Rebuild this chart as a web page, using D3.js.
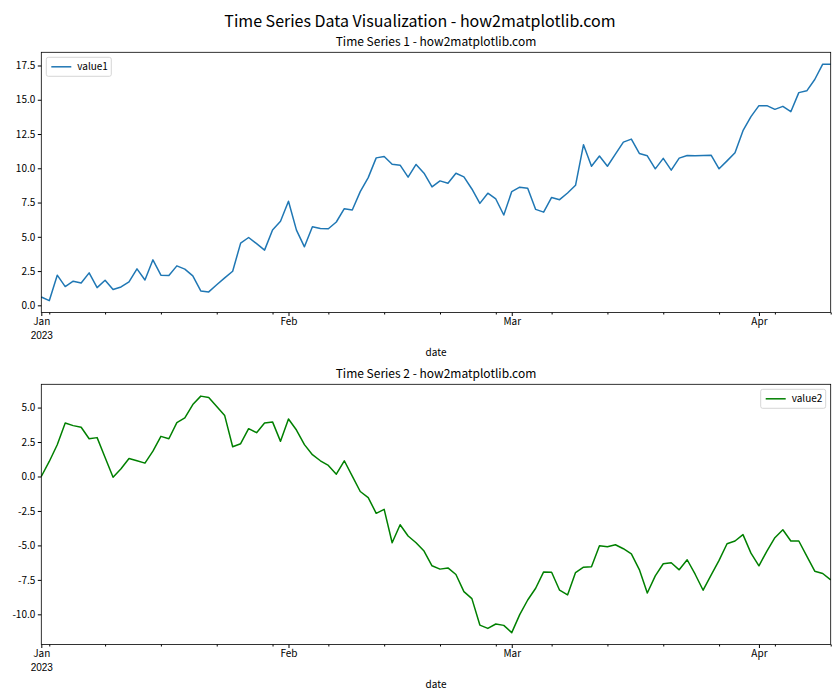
<!DOCTYPE html>
<html lang="en">
<head>
  <meta charset="UTF-8">
  <title>Time Series Data Visualization - how2matplotlib.com</title>
  <style>
    body {
      margin: 0;
      background: #fff;
      font-family: 'Noto Sans CJK SC', 'Open Sans', sans-serif;
    }
    svg { display: block; }
    .tick text { fill: #000; }
  </style>
  <script src="https://d3js.org/d3.v7.min.js"></script>
</head>
<body>
  <svg></svg>
  <script>
    const width = 840, height = 700;

    // daily values from 2023-01-01 to 2023-04-10
    const value1 = [
      0.61, 0.34, 2.20, 1.37, 1.76, 1.63, 2.37, 1.29, 1.83, 1.15,
      1.34, 1.71, 2.66, 1.85, 3.32, 2.20, 2.17, 2.88, 2.64, 2.15,
      1.05, 0.98, 1.50, 2.00, 2.49, 4.54, 4.95, 4.50, 4.03, 5.50,
      6.13, 7.59, 5.49, 4.27, 5.74, 5.61, 5.59, 6.08, 7.05, 6.96,
      8.30, 9.32, 10.76, 10.86, 10.30, 10.23, 9.35, 10.28, 9.64, 8.64,
      9.08, 8.91, 9.64, 9.37, 8.49, 7.44, 8.18, 7.76, 6.59, 8.30,
      8.62, 8.54, 7.00, 6.80, 7.87, 7.71, 8.20, 8.76, 11.72, 10.15,
      10.89, 10.15, 11.03, 11.91, 12.13, 11.08, 10.91, 9.96, 10.72, 9.86,
      10.74, 10.93, 10.91, 10.93, 10.96, 9.96, 10.54, 11.13, 12.74, 13.77,
      14.57, 14.57, 14.30, 14.52, 14.13, 15.52, 15.65, 16.48, 17.60, 17.60
    ];
    const value2 = [
      0.00, 1.09, 2.30, 3.88, 3.69, 3.57, 2.74, 2.82, 1.38, -0.05,
      0.56, 1.31, 1.14, 0.97, 1.84, 2.91, 2.74, 3.91, 4.25, 5.22,
      5.83, 5.73, 5.07, 4.42, 2.16, 2.38, 3.47, 3.18, 3.88, 3.96,
      2.55, 4.17, 3.37, 2.31, 1.58, 1.14, 0.80, 0.17, 1.14, 0.02,
      -1.09, -1.53, -2.67, -2.38, -4.81, -3.50, -4.32, -4.81, -5.41, -6.48,
      -6.72, -6.63, -7.11, -8.35, -8.86, -10.78, -11.02, -10.70, -10.80, -11.33,
      -10.02, -8.96, -8.11, -6.92, -6.95, -8.25, -8.59, -6.97, -6.58, -6.55,
      -5.02, -5.10, -4.95, -5.24, -5.61, -6.75, -8.45, -7.21, -6.33, -6.26,
      -6.77, -6.04, -7.09, -8.25, -7.16, -6.09, -4.88, -4.68, -4.22, -5.56,
      -6.48, -5.41, -4.44, -3.86, -4.68, -4.68, -5.78, -6.87, -7.04, -7.50
    ];
    const ticks1 = [0, 2.5, 5, 7.5, 10, 12.5, 15, 17.5];
    const ticks2 = [-10, -7.5, -5, -2.5, 0, 2.5, 5];

    const dates = d3.utcDay.range(new Date(Date.UTC(2023, 0, 1)), new Date(Date.UTC(2023, 3, 11)));

    const svg = d3.select("svg").attr("width", width).attr("height", height);

    svg.append("text")
      .attr("x", width / 2).attr("y", 27)
      .attr("text-anchor", "middle")
      .attr("font-size", 16)
      .text("Time Series Data Visualization - how2matplotlib.com");

    const left = 41.3, right = 830.7;
    const x = d3.scaleUtc().domain(d3.extent(dates)).range([left, right]);
    const fmt = d => d3.format(".1f")(d).replace("\u2212", "-");

    function panel(values, top, bottom, color, label, title, ticks, legendRight) {
      const lo = d3.min(values), hi = d3.max(values), pad = (hi - lo) * 0.05;
      const y = d3.scaleLinear().domain([lo - pad, hi + pad]).range([bottom, top]);
      const g = svg.append("g");

      // plot line
      g.append("path")
        .datum(values)
        .attr("fill", "none")
        .attr("stroke", color)
        .attr("stroke-width", 1.5)
        .attr("stroke-linejoin", "round")
        .attr("d", d3.line().x((d, i) => x(dates[i])).y(d => y(d)));

      // y axis
      g.append("g")
        .attr("transform", `translate(${left},0)`)
        .call(d3.axisLeft(y).tickValues(ticks).tickFormat(fmt).tickSize(3.5).tickPadding(2.5))
        .call(a => a.select(".domain").remove())
        .call(a => a.selectAll("text").attr("font-size", 10).attr("font-family", "'Noto Sans CJK SC', sans-serif"));

      // x axis: minor weekly (Mondays) and major monthly ticks
      const minor = d3.utcMonday.range(x.domain()[0], d3.utcDay.offset(x.domain()[1], 1));
      g.append("g")
        .attr("transform", `translate(0,${bottom})`)
        .call(d3.axisBottom(x).tickValues(minor).tickSize(2).tickFormat(""))
        .call(a => a.select(".domain").remove());
      const major = d3.utcMonth.range(x.domain()[0], x.domain()[1]);
      const xa = g.append("g")
        .attr("transform", `translate(0,${bottom})`)
        .call(d3.axisBottom(x).tickValues(major).tickSize(3.5).tickPadding(2).tickFormat(d3.utcFormat("%b")))
        .call(a => a.select(".domain").remove())
        .call(a => a.selectAll("text").attr("font-size", 10).attr("font-family", "'Noto Sans CJK SC', sans-serif"));
      xa.selectAll(".tick").filter((d, i) => i === 0)
        .append("text")
        .attr("y", 19).attr("dy", "0.71em")
        .attr("fill", "#000").attr("font-size", 10)
        .attr("text-anchor", "middle")
        .text("2023");

      g.append("text")
        .attr("x", (left + right) / 2).attr("y", bottom + 43)
        .attr("text-anchor", "middle").attr("font-size", 10)
        .text("date");

      // frame
      g.append("rect")
        .attr("x", left).attr("y", top)
        .attr("width", right - left).attr("height", bottom - top)
        .attr("fill", "none").attr("stroke", "#000").attr("stroke-width", 0.8);

      g.append("text")
        .attr("x", (left + right) / 2).attr("y", top - 6)
        .attr("text-anchor", "middle").attr("font-size", 12)
        .text(title);

      // legend
      const lw = 65, lh = 19;
      const lx = legendRight ? right - 5 - lw : left + 5, ly = top + 5;
      const lg = g.append("g").attr("transform", `translate(${lx},${ly})`);
      lg.append("rect")
        .attr("width", lw).attr("height", lh).attr("rx", 2)
        .attr("fill", "#fff").attr("fill-opacity", 0.8)
        .attr("stroke", "#ccc").attr("stroke-width", 0.8);
      lg.append("line")
        .attr("x1", 5).attr("x2", 25).attr("y1", lh / 2).attr("y2", lh / 2)
        .attr("stroke", color).attr("stroke-width", 1.5);
      lg.append("text")
        .attr("x", 31).attr("y", lh / 2).attr("dy", "0.35em")
        .attr("font-size", 10)
        .text(label);
    }

    panel(value1, 52.3, 312.5, "#1f77b4", "value1", "Time Series 1 - how2matplotlib.com", ticks1, false);
    panel(value2, 384.3, 644.5, "green", "value2", "Time Series 2 - how2matplotlib.com", ticks2, true);
  </script>
</body>
</html>
